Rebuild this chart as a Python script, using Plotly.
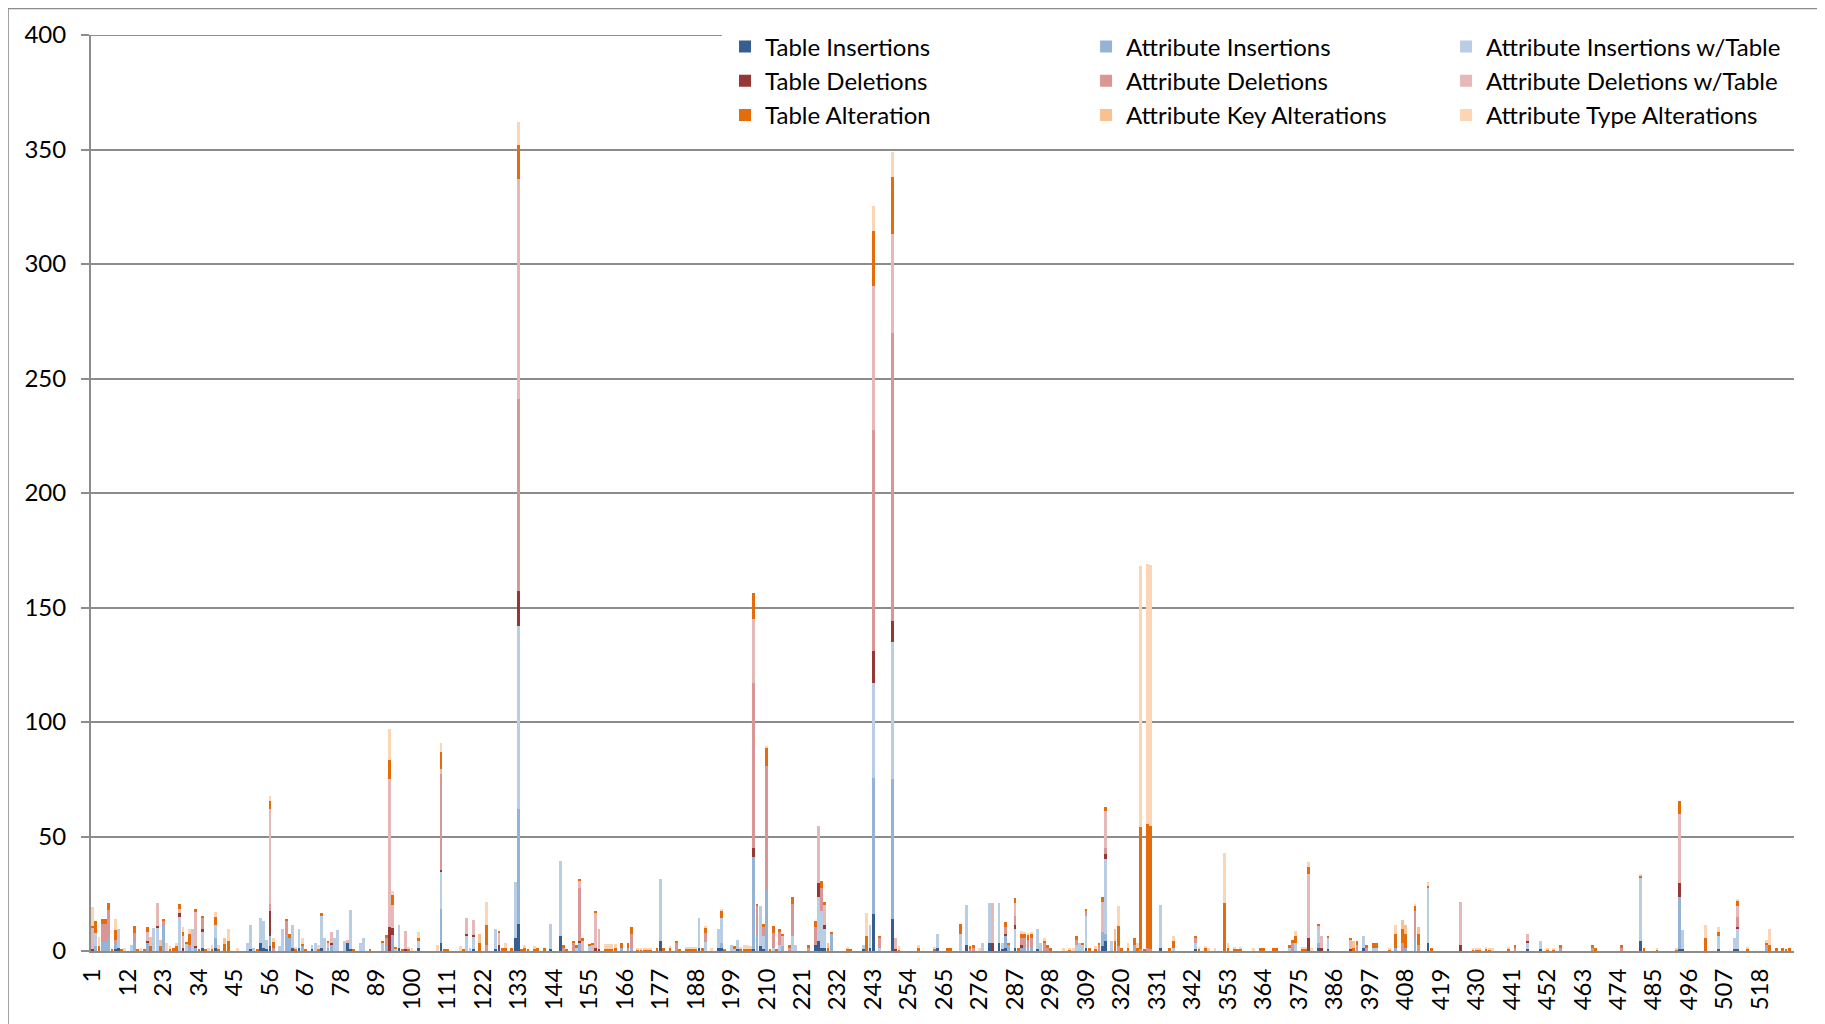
""" Stacked schema-change bars per version (PLOTLY) """

import plotly.graph_objs as go

n_versions = 528
versions = list(range(1, n_versions + 1))
tick_values = list(range(1, n_versions + 1, 11))

# sparse values: {version: count}
table_ins = {8: 1, 9: 1.5, 35: 1.5, 39: 1.5, 50: 0.7, 53: 3.5, 54: 1.5, 55: 1, 56: 2, 63: 1.5, 65: 1.5, 69: 0.7,
             72: 1.5, 80: 3.5, 81: 0.7, 96: 1.5, 102: 1.5, 109: 3.4, 119: 0.7, 126: 0.7, 127: 0.7, 132: 5.5,
             133: 12, 143: 0.7, 146: 6.5, 177: 4.5, 189: 1.5, 195: 1.5, 196: 1.5, 201: 0.7, 206: 1, 208: 2,
             209: 0.7, 225: 2.5, 226: 4.5, 227: 1.5, 228: 1.5, 240: 0.7, 242: 1.5, 243: 16, 249: 14, 263: 1.5,
             272: 2.5, 279: 3.5, 282: 3.5, 283: 1, 284: 1.5, 287: 1.5, 294: 0.7, 309: 1.5, 314: 2, 315: 4.5,
             332: 1.5, 343: 0.7, 378: 0.7, 381: 1.5, 384: 0.7, 395: 1.5, 415: 3.5, 446: 0.7, 450: 0.7, 481: 4.5,
             493: 0.7, 494: 0.7, 505: 0.7, 510: 0.7, 511: 0.7}
attr_ins = {2: 2, 4: 4, 5: 4, 6: 6, 8: 2, 14: 4, 18: 3.5, 23: 11, 31: 1.5, 33: 1.5, 39: 4, 56: 4.5, 61: 7,
            62: 5.5, 66: 2, 74: 1.5, 75: 2.5, 92: 2, 94: 7, 109: 15, 133: 50, 152: 3.5, 165: 1.5, 168: 1.5,
            196: 2, 206: 40, 207: 7, 210: 26.5, 215: 2, 230: 7.5, 243: 59.5, 249: 61, 284: 5, 285: 2.5,
            289: 1.5, 290: 1.5, 291: 1.5, 292: 1.5, 314: 6.5, 315: 3, 324: 2.5, 381: 2, 405: 1.5, 408: 1.5,
            411: 5.5, 493: 23, 520: 1.5}
attr_ins_wt = {2: 6, 9: 8, 13: 2.5, 20: 10, 21: 10, 28: 15, 30: 3, 32: 9.5, 35: 7, 39: 6, 49: 3.5, 50: 10.5,
               51: 1.5, 53: 11, 54: 11.5, 55: 4, 59: 2, 60: 9.5, 63: 10, 65: 8, 69: 2, 70: 3.5, 72: 14, 73: 5.5,
               76: 5.5, 77: 9, 79: 4.5, 81: 17, 84: 3.5, 85: 5.5, 91: 3.5, 95: 1, 96: 10, 102: 3, 109: 16,
               117: 6.5, 118: 1.5, 119: 5.5, 126: 8.8, 132: 24.5, 133: 80, 143: 11, 146: 33, 151: 1.5, 155: 2,
               177: 27, 189: 13, 191: 4, 195: 8, 196: 11, 199: 2.5, 200: 1, 201: 4, 208: 17.5, 209: 6, 212: 1.5,
               214: 2.5, 218: 6.5, 219: 2.5, 226: 19, 227: 16, 228: 8, 240: 1.8, 242: 10, 243: 41.5, 245: 1.5,
               249: 60, 263: 6, 270: 7.5, 272: 17.5, 277: 3.5, 279: 17.5, 282: 17.5, 283: 2.5, 287: 8, 294: 8.8,
               295: 3.5, 306: 2.5, 307: 3.5, 308: 2.5, 309: 14, 315: 32.5, 317: 4.5, 332: 18.5, 336: 1.5,
               343: 2.9, 372: 1.5, 374: 3.5, 381: 5.5, 384: 4.8, 395: 5, 398: 1.5, 399: 1.5, 415: 24, 446: 2.6,
               450: 3.8, 481: 27.5, 494: 8.3, 505: 5.8, 510: 4.8, 511: 9}
table_del = {1: 1, 18: 1, 21: 1, 28: 1.5, 29: 1.5, 33: 0.7, 35: 1, 56: 11, 75: 1, 93: 10.5, 94: 3, 98: 0.7,
             109: 1, 117: 1, 119: 1, 127: 1.8, 133: 15, 152: 1, 157: 1.5, 158: 0.7, 206: 4, 226: 6, 228: 2,
             243: 14, 249: 9, 250: 0.7, 280: 3.5, 284: 1, 287: 2, 289: 1, 315: 2.5, 378: 5, 382: 1.5, 391: 0.7,
             425: 2.5, 446: 1, 493: 6, 511: 1}
attr_del = {4: 8, 5: 8, 6: 12, 8: 2, 14: 4, 23: 2, 31: 1, 35: 5, 56: 3, 57: 1.5, 61: 6, 92: 3.5, 109: 42,
            123: 2.5, 133: 84, 147: 1.5, 150: 3.5, 152: 23, 167: 1.5, 168: 6, 182: 3.5, 191: 4, 206: 72,
            207: 12.5, 209: 3.6, 210: 54.5, 212: 6.3, 214: 6.2, 217: 1.5, 218: 14, 223: 1.5, 225: 8, 227: 10,
            243: 96.5, 245: 4, 249: 126, 273: 1, 274: 1.5, 284: 3, 287: 4, 289: 3, 290: 4, 291: 3.5, 292: 4,
            296: 3.5, 297: 1.5, 306: 2.2, 309: 2, 313: 2.5, 315: 2.5, 319: 2, 326: 1, 328: 1.5, 329: 1,
            343: 1.9, 373: 3.3, 393: 2.5, 396: 1.7, 407: 3.5, 411: 12, 412: 2.5, 442: 1.5, 456: 1.5, 466: 1.5,
            475: 1.5, 511: 4, 520: 1}
attr_del_wt = {1: 9, 18: 4, 21: 10, 28: 2, 29: 5, 33: 15, 56: 41.5, 74: 2, 75: 5, 80: 1.5, 93: 64.5, 94: 10,
               98: 8, 109: 2, 117: 7, 119: 6.3, 127: 5.2, 133: 96, 152: 3, 153: 4.5, 156: 2.5, 157: 15,
               158: 8.8, 206: 28, 215: 4.4, 226: 25, 228: 9, 243: 63, 249: 43, 250: 4.8, 280: 17.5, 287: 5.5,
               314: 13, 315: 16, 378: 28, 381: 2, 382: 5, 391: 4, 425: 19, 446: 3.2, 493: 30, 511: 5}
table_alt = {1: 1, 2: 5, 3: 2, 4: 2, 5: 2, 6: 3, 7: 1, 8: 4, 10: 1, 14: 3, 15: 1, 17: 1, 18: 2, 19: 2, 22: 2,
             23: 1, 25: 1, 26: 1.5, 27: 2, 28: 2, 29: 2, 30: 1, 31: 5, 33: 1, 34: 1, 35: 1, 36: 1, 38: 1,
             39: 3.5, 40: 1, 42: 3, 43: 4.5, 52: 1, 56: 3.5, 57: 2.5, 61: 1, 62: 2, 64: 1, 66: 1, 67: 1, 71: 1,
             72: 1, 74: 1, 82: 1, 87: 1, 91: 1, 92: 1.5, 93: 8.3, 94: 4.5, 95: 0.5, 97: 1, 99: 1, 102: 1,
             109: 7.3, 110: 1, 111: 1, 116: 1, 121: 3.5, 123: 9, 127: 1, 128: 1.5, 129: 1.2, 131: 1.5, 133: 15,
             134: 1, 135: 1.3, 136: 0.7, 138: 1, 139: 1.2, 141: 1.5, 147: 1, 148: 0.7, 150: 1, 151: 1, 152: 1,
             153: 1, 155: 1, 156: 1, 157: 1, 160: 1, 161: 1, 162: 1, 163: 1.5, 165: 2, 167: 2, 168: 3,
             170: 0.5, 171: 0.5, 172: 0.5, 173: 0.5, 174: 0.5, 176: 1.5, 178: 1.5, 180: 1.5, 182: 1, 183: 1,
             185: 1, 186: 1, 187: 1, 188: 1, 190: 1.5, 191: 2, 196: 3, 197: 0.7, 200: 1, 202: 1, 203: 1, 204: 1,
             205: 1, 206: 11.5, 207: 1, 209: 1.5, 210: 7.5, 211: 1, 212: 3, 213: 0.7, 214: 0.8, 215: 1, 217: 1,
             218: 3, 223: 1, 225: 2.8, 227: 3, 228: 0.7, 229: 1.5, 230: 1, 235: 1, 236: 0.7, 241: 6.5, 243: 24,
             245: 1, 249: 25, 251: 0.5, 257: 1.5, 262: 1, 266: 1.5, 267: 1.5, 270: 4.5, 273: 1, 274: 1,
             284: 2.2, 285: 1.2, 287: 2, 288: 1.5, 289: 1.8, 290: 1.8, 291: 1.8, 292: 2, 296: 1, 297: 1,
             298: 1.5, 304: 0.5, 306: 2, 308: 1, 309: 1, 310: 1.5, 312: 1, 313: 1, 314: 2, 315: 2, 318: 4.5,
             319: 9, 320: 1.5, 322: 1.5, 324: 3, 325: 1.5, 326: 53, 327: 1, 328: 54, 329: 53.5, 335: 1.5,
             336: 3, 343: 1, 344: 1, 346: 1.5, 352: 20.8, 353: 1.5, 355: 1, 356: 1, 357: 1, 363: 1.5, 364: 1.5,
             367: 1.5, 368: 1.5, 372: 1, 373: 1.3, 374: 3, 376: 1, 377: 1, 378: 3, 381: 1, 384: 1, 391: 1,
             392: 1.5, 393: 2, 396: 0.8, 398: 2, 399: 2, 403: 0.5, 405: 6, 407: 6, 408: 6, 411: 2, 412: 5,
             415: 1, 416: 1.5, 429: 0.5, 430: 0.5, 431: 0.5, 433: 0.7, 434: 0.5, 440: 0.7, 442: 1, 452: 0.5,
             454: 0.7, 456: 1, 466: 1, 467: 1.5, 475: 1, 481: 0.7, 482: 1.5, 486: 0.5, 492: 0.5, 493: 6,
             501: 5.5, 505: 2, 511: 2, 514: 1, 520: 1.2, 521: 2.5, 523: 1.5, 525: 1.5, 526: 0.7, 527: 1.5}
attr_key_alt = {19: 4, 22: 3, 42: 2.5, 121: 4, 229: 2, 318: 5, 392: 3, 407: 4, 408: 4, 412: 3}
attr_type_alt = {1: 8, 3: 4, 8: 5, 11: 1.5, 16: 1.5, 24: 3.5, 25: 1, 27: 1.5, 29: 2, 31: 2, 37: 1.5, 38: 1.5,
                 39: 2, 40: 1.5, 43: 5, 46: 1.5, 56: 2, 57: 1.5, 64: 0.5, 66: 2.5, 71: 1.5, 93: 13.5, 94: 1.5,
                 99: 0.8, 100: 1.5, 102: 3, 108: 2.5, 109: 4, 115: 2, 123: 10, 129: 2.3, 133: 10, 135: 1.2,
                 138: 1, 160: 2, 161: 2, 162: 2, 163: 1.5, 170: 1, 171: 1, 172: 1, 173: 1, 174: 1, 180: 0.5,
                 185: 0.5, 186: 0.5, 187: 0.5, 188: 0.5, 191: 1, 193: 1.5, 196: 1, 202: 0.8, 203: 1.5,
                 204: 1.5, 205: 1, 210: 1, 235: 0.5, 241: 10, 243: 11, 249: 11, 251: 1.8, 257: 1, 262: 0.5,
                 276: 1.5, 289: 1.5, 290: 1.2, 291: 1, 292: 0.5, 296: 1, 302: 1.5, 304: 1, 305: 1.5, 312: 1,
                 319: 8.5, 322: 2, 325: 2, 326: 114, 328: 113.5, 329: 114, 336: 2, 344: 0.5, 346: 0.3,
                 347: 1.5, 349: 1.5, 352: 22, 353: 2, 355: 0.5, 357: 0.5, 361: 1.5, 374: 2.2, 376: 0.5,
                 377: 0.5, 378: 2, 379: 1.5, 403: 1, 405: 4, 411: 1, 415: 1.5, 429: 1, 430: 1, 431: 1, 433: 1,
                 434: 1, 435: 1.5, 440: 1, 452: 1, 454: 0.8, 481: 1, 486: 1, 492: 1, 501: 6, 505: 2, 511: 1,
                 514: 0.5, 520: 1, 521: 7}

series = [
    ("Table Insertions", table_ins, "#375E91"),
    ("Attribute Insertions", attr_ins, "#95B3D7"),
    ("Attribute Insertions w/Table", attr_ins_wt, "#B9CDE5"),
    ("Table Deletions", table_del, "#953735"),
    ("Attribute Deletions", attr_del, "#D99694"),
    ("Attribute Deletions w/Table", attr_del_wt, "#E6B9B8"),
    ("Table Alteration", table_alt, "#E46C0A"),
    ("Attribute Key Alterations", attr_key_alt, "#FAC090"),
    ("Attribute Type Alterations", attr_type_alt, "#FCD5B5"),
]
legend_ids = ["legend", "legend2", "legend3"]

FONT = "Lato"
GRID = "#8C8C8C"

fig = go.Figure()
for i, (name, values, color) in enumerate(series):
    fig.add_trace(go.Bar(x=versions, y=[values.get(v, 0) for v in versions], name=name,
                         marker_color=color, marker_line_width=0,
                         legend=legend_ids[i % 3], legendgroup=name))

legend_style = dict(orientation="v", yanchor="top", y=1.0115, xanchor="left",
                    bgcolor="rgba(255,255,255,0)", borderwidth=0, traceorder="grouped",
                    tracegroupgap=0, font=dict(family=FONT, size=24, color="black"))

# page body adds an 8px offset, so the figure is 8px smaller than the window on each side
fig.update_layout({
    "width": 1817, "height": 1016,
    "margin": dict(l=83, r=31, t=27, b=73),
    "paper_bgcolor": "white", "plot_bgcolor": "white",
    "barmode": "stack", "bargap": 0.12,
    "font": dict(family=FONT, size=24, color="black"),
    "xaxis": dict(range=[0.5, n_versions + 0.5], tickmode="array", tickvals=tick_values,
                  ticktext=[str(t) for t in tick_values], tickangle=-90, showgrid=False,
                  showline=True, linecolor=GRID, linewidth=2, ticks="", ticklabelstandoff=6,
                  zeroline=False),
    "yaxis": dict(range=[0, 400], dtick=50, showgrid=True, gridcolor=GRID, gridwidth=2,
                  showline=True, linecolor=GRID, linewidth=2, ticks="outside", ticklen=8,
                  tickcolor=GRID, tickwidth=2, ticklabelstandoff=10, zeroline=False),
    "legend": dict(legend_style, x=0.3723),
    "legend2": dict(legend_style, x=0.5843),
    "legend3": dict(legend_style, x=0.7957),
    "showlegend": True,
    "shapes": [
        # top gridline, visible only left of the legend
        dict(type="line", xref="paper", yref="y", x0=0, x1=0.3705, y0=400, y1=400,
             line=dict(color=GRID, width=2), layer="below"),
        # white box behind the legend hides the top gridline there
        dict(type="rect", xref="paper", yref="paper", x0=0.3705, x1=1.005, y0=0.89, y1=1.012,
             fillcolor="white", line_width=0, layer="above"),
        # outer chart frame
        dict(type="rect", xref="paper", yref="paper", x0=-0.0487, x1=1.0164, y0=-0.3, y1=1.0289,
             line=dict(color=GRID, width=1.5), layer="above"),
    ],
})

fig.write_html("out.html")
